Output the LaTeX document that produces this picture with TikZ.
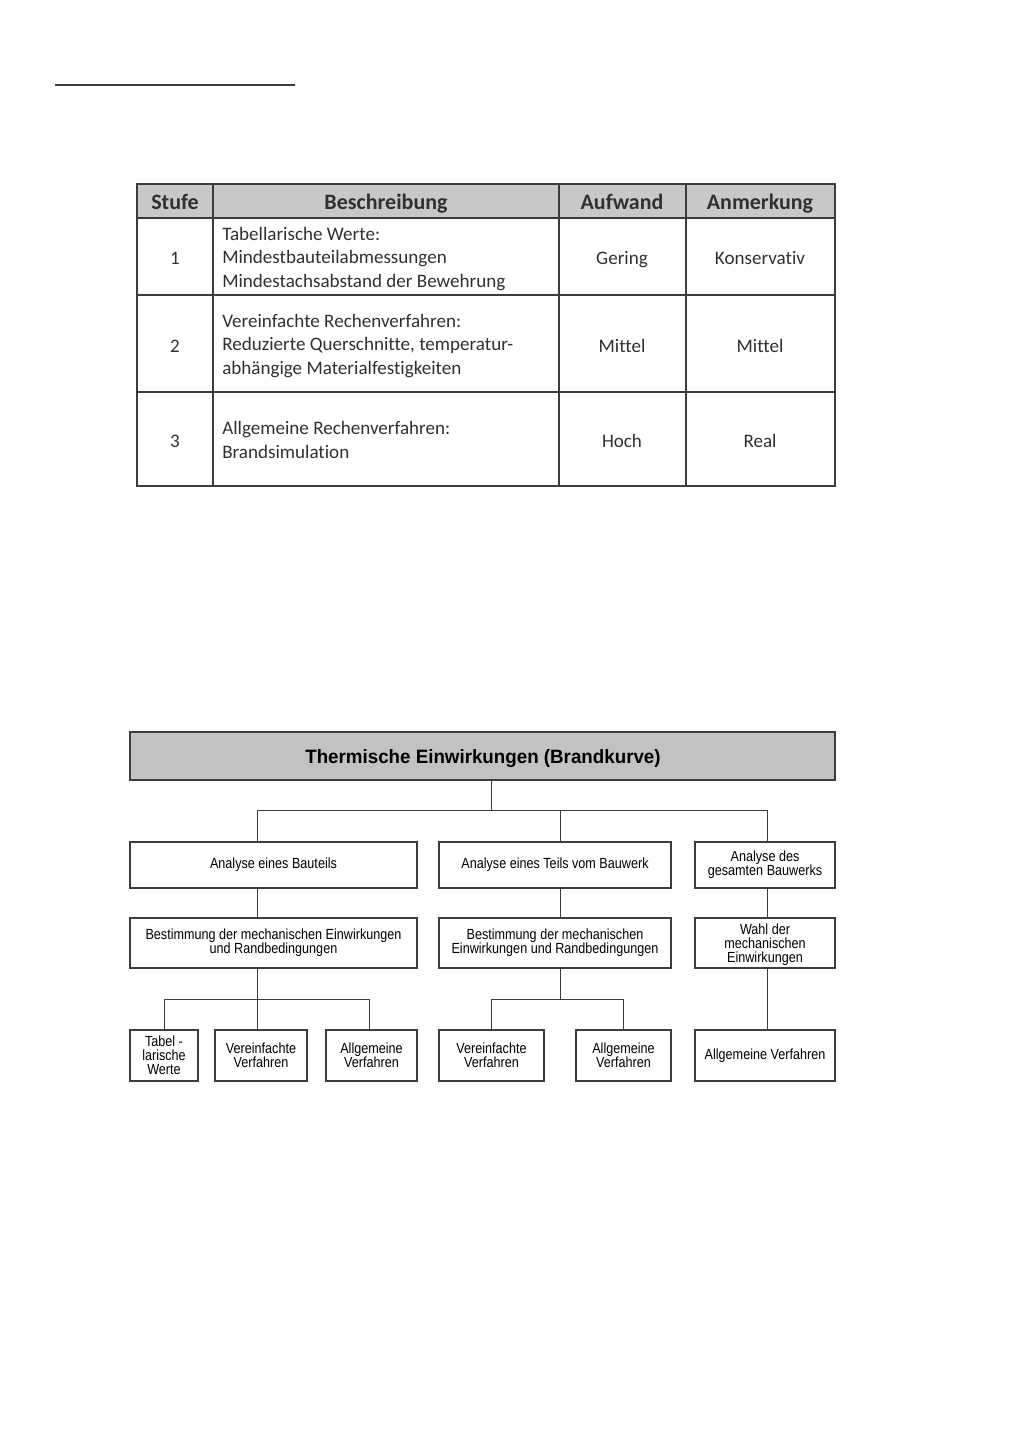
\documentclass[tikz,border=0pt]{standalone}
\usepackage{fontspec}
\setmainfont{Carlito}[Ligatures=NoCommon]
\newfontfamily\chartfont[FakeStretch=0.86]{Liberation Sans}
\newfontfamily\titlefont[FakeStretch=0.97]{Liberation Sans}
\usetikzlibrary{fit}
\definecolor{hdrgray}{HTML}{C8C8C8}
\definecolor{ttlgray}{HTML}{C2C2C2}
\definecolor{linegray}{HTML}{3C3C3C}
\definecolor{txtgray}{HTML}{303030}
\tikzset{
  tline/.style={draw=linegray, line width=0.8pt},
  hdr/.style={font=\fontsize{16.5}{19}\selectfont\bfseries, text=txtgray, inner sep=0pt, anchor=base},
  cell/.style={font=\fontsize{14.3}{17.25}\selectfont, text=txtgray, inner sep=0pt, anchor=base},
  desc/.style={font=\fontsize{14.3}{17.5}\selectfont, text=txtgray, inner sep=0pt, align=left, anchor=west},
  box/.style={draw=linegray, line width=0.8pt, inner sep=0pt},
  lbl/.style={font=\chartfont\fontsize{11}{10.6}\selectfont, align=center, inner sep=0pt},
  conn/.style={draw=linegray, line width=0.7pt},
}
\begin{document}
\begin{tikzpicture}[x=0.75pt,y=-0.75pt]
\useasboundingbox (0,0) rectangle (1013,1437);
% top rule
\coordinate (r1) at (55,85);
\coordinate (r2) at (295,85);
\draw[draw=linegray, line width=1pt] (r1) -- (r2);

% ---------- table ----------
\fill[hdrgray] (137,184) rectangle (835,218);
\draw[tline] (137,184) rectangle (835,486);
\draw[tline] (137,218) -- (835,218);
\draw[tline] (137,295) -- (835,295);
\draw[tline] (137,392) -- (835,392);
\draw[tline] (213,184) -- (213,486);
\draw[tline] (559,184) -- (559,486);
\draw[tline] (686,184) -- (686,486);

\node[hdr] (h1) at (175,210) {Stufe};
\node[hdr] (h2) at (386,210) {Beschreibung};
\node[hdr] (h3) at (622,210) {Aufwand};
\node[hdr] (h4) at (760,210) {Anmerkung};

\node[cell] (n1) at (175,265) {1};
\node[desc] (d1) at (222,259) {Tabellarische Werte:\\Mindestbauteilabmessungen\\Mindestachsabstand der Bewehrung};
\node[cell] (a1) at (622,265) {Gering};
\node[cell] (m1) at (760,265) {Konservativ};

\node[cell] (n2) at (175,352) {2};
\node[desc] (d2) at (222,346) {Vereinfachte Rechenverfahren:\\Reduzierte Querschnitte, temperatur-\\abhängige Materialfestigkeiten};
\node[cell] (a2) at (622,352) {Mittel};
\node[cell] (m2) at (760,352) {Mittel};

\node[cell] (n3) at (175,447) {3};
\node[desc] (d3) at (222,440) {Allgemeine Rechenverfahren:\\Brandsimulation};
\node[cell] (a3) at (622,447) {Hoch};
\node[cell] (m3) at (760,447) {Real};

% ---------- chart ----------
\node[box, fill=ttlgray, fit={(130,732) (835,780)}] (title) {};
\node[font=\titlefont\fontsize{14.5}{16}\selectfont\bfseries, inner sep=0pt, anchor=base] (titletext) at (483,763) {Thermische Einwirkungen (Brandkurve)};

\node[box, fit={(130,842) (417,888)}] (A) {};
\node[box, fit={(439,842) (671,888)}] (B) {};
\node[box, fit={(695,842) (835,888)}] (C) {};
\node[box, fit={(130,918) (417,968)}] (A2) {};
\node[box, fit={(439,918) (671,968)}] (B2) {};
\node[box, fit={(695,918) (835,968)}] (C2) {};
\node[box, fit={(130,1030) (198,1081)}] (A3a) {};
\node[box, fit={(215,1030) (307,1081)}] (A3b) {};
\node[box, fit={(326,1030) (417,1081)}] (A3c) {};
\node[box, fit={(439,1030) (544,1081)}] (B3a) {};
\node[box, fit={(576,1030) (671,1081)}] (B3b) {};
\node[box, fit={(695,1030) (835,1081)}] (C3) {};

\node[lbl] (tA) at (A) {Analyse eines Bauteils};
\node[lbl] (tB) at (B) {Analyse eines Teils vom Bauwerk};
\node[lbl] (tC) at (C) {Analyse des\\gesamten Bauwerks};
\node[lbl] (tA2) at (A2) {Bestimmung der mechanischen Einwirkungen\\und Randbedingungen};
\node[lbl] (tB2) at (B2) {Bestimmung der mechanischen\\Einwirkungen und Randbedingungen};
\node[lbl] (tC2) at ([yshift=-1.5pt]C2.center) {Wahl der\\mechanischen\\Einwirkungen};
\node[lbl] (tA3a) at (A3a) {Tabel -\\larische\\Werte};
\node[lbl] (tA3b) at (A3b) {Vereinfachte\\Verfahren};
\node[lbl] (tA3c) at (A3c) {Allgemeine\\Verfahren};
\node[lbl] (tB3a) at (B3a) {Vereinfachte\\Verfahren};
\node[lbl] (tB3b) at (B3b) {Allgemeine\\Verfahren};
\node[lbl] (tC3) at (C3) {Allgemeine Verfahren};

% connectors
\coordinate (jt) at (491,810);
\coordinate (ja) at (257,810);
\coordinate (jb) at (560,810);
\coordinate (jc) at (767,810);
\draw[conn] (jt |- title.south) -- (jt);
\draw[conn] (ja |- A.north) -- (ja) -- (jc) -- (jc |- C.north);
\draw[conn] (jb |- B.north) -- (jb |- jt);
\draw[conn] (ja |- A.south) -- (ja |- A2.north);
\draw[conn] (jb |- B.south) -- (jb |- B2.north);
\draw[conn] (jc |- C.south) -- (jc |- C2.north);

\coordinate (ka) at (257,999);
\coordinate (ka1) at (164,999);
\coordinate (ka3) at (369,999);
\draw[conn] (ja |- A2.south) -- (ka);
\draw[conn] (A3a.north) -- (ka1) -- (ka3) -- (ka3 |- A3c.north);
\draw[conn] (ka) -- (ka |- A3b.north);

\coordinate (kb) at (560,999);
\coordinate (kb1) at (491.5,999);
\coordinate (kb2) at (623.5,999);
\draw[conn] (jb |- B2.south) -- (kb);
\draw[conn] (kb1 |- B3a.north) -- (kb1) -- (kb2) -- (kb2 |- B3b.north);
\draw[conn] (jc |- C2.south) -- (jc |- C3.north);
\end{tikzpicture}
\end{document}
